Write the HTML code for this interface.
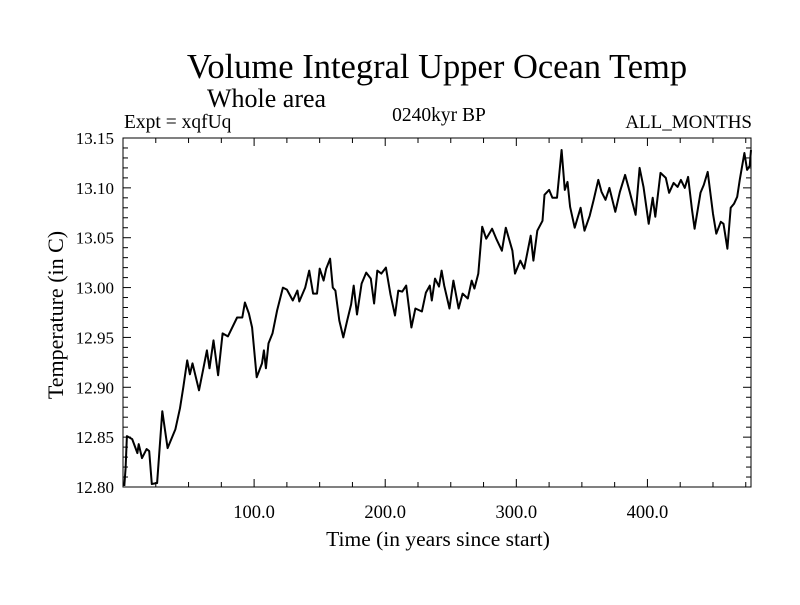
<!DOCTYPE html>
<html><head><meta charset="utf-8"><style>
html,body{margin:0;padding:0;background:#fff;}
svg text{font-family:"Liberation Serif",serif;fill:#000;}
</style></head><body>
<svg id="chart" width="800" height="600" xmlns="http://www.w3.org/2000/svg">
<text x="437" y="78" font-size="34.5" text-anchor="middle">Volume Integral Upper Ocean Temp</text>
<text x="207" y="107" font-size="26">Whole area</text>
<text x="124" y="128" font-size="19.5">Expt = xqfUq</text>
<text x="439" y="121" font-size="19.5" text-anchor="middle">0240kyr BP</text>
<text x="752" y="128" font-size="19" text-anchor="end">ALL_MONTHS</text>
<text transform="translate(63,315) rotate(-90)" font-size="22" text-anchor="middle">Temperature (in C)</text>
<text x="438" y="546" font-size="21.5" text-anchor="middle">Time (in years since start)</text>
<g id="axes"></g>
<g id="plot"></g>
</svg>
<script>
const years=[1,2,3,7,11,12,14.5,18,20,22,26,30,34,40,43.5,46,49,51,53,58,61,64,66,69,72.5,76,80,87,91,93,96,98.5,102,106,107.5,109,111,114,117.5,122,125,129.5,133,134.5,139,142,145,148,150,153,155,158,160,162,165,168,171,174,176,178.5,182,185.5,189,191.5,194,197,200.5,204,207.5,210,213,216,220,223,228,231,234,235.5,238,241,243,245,249,252,256,259,263,266,268,271,274,277,281.5,285,289,292,297,299,303,306,311,313,316,320,321.5,325,327.5,331,334.5,337,339,341,344.5,349,352,356,359,362.5,365,368,371,375.5,379,383,386.5,391,394,397,401,404,406,410,414,416.5,420,423,425.5,428.5,431,434,436,440.5,443,446,450,452.5,456,458,461,463.5,466,468.5,470.5,474,476,478,479];
const temps=[12.801,12.819,12.851,12.848,12.834,12.843,12.829,12.838,12.836,12.803,12.804,12.876,12.839,12.858,12.879,12.900,12.927,12.913,12.924,12.897,12.917,12.937,12.919,12.947,12.912,12.954,12.951,12.970,12.970,12.985,12.974,12.960,12.910,12.924,12.937,12.919,12.944,12.954,12.977,13.000,12.998,12.987,12.997,12.986,13.000,13.017,12.994,12.994,13.019,13.007,13.019,13.029,13.000,12.997,12.967,12.950,12.967,12.983,13.002,12.973,13.004,13.015,13.009,12.984,13.017,13.014,13.020,12.993,12.972,12.997,12.996,13.002,12.960,12.979,12.976,12.995,13.002,12.987,13.009,13.001,13.017,13.002,12.979,13.007,12.979,12.994,12.989,13.007,12.999,13.014,13.061,13.049,13.059,13.048,13.037,13.060,13.037,13.014,13.027,13.019,13.052,13.027,13.057,13.067,13.093,13.098,13.090,13.090,13.138,13.098,13.106,13.081,13.060,13.080,13.057,13.072,13.088,13.108,13.096,13.088,13.100,13.076,13.096,13.113,13.096,13.073,13.120,13.101,13.064,13.090,13.071,13.115,13.110,13.095,13.105,13.101,13.108,13.100,13.111,13.078,13.059,13.095,13.103,13.116,13.074,13.054,13.066,13.064,13.039,13.080,13.084,13.091,13.109,13.135,13.118,13.122,13.138];
const xTickVals=[100,200,300,400];
const xTickLabels=["100.0","200.0","300.0","400.0"];
const yTickVals=[12.80,12.85,12.90,12.95,13.00,13.05,13.10,13.15];
const yTickLabels=["12.80","12.85","12.90","12.95","13.00","13.05","13.10","13.15"];
const X0=123,X1=751,Y0=487,Y1=138,xmin=0,xmax=479,ymin=12.80,ymax=13.15;
const sx=v=>X0+(v-xmin)/(xmax-xmin)*(X1-X0);
const sy=v=>Y0-(v-ymin)/(ymax-ymin)*(Y0-Y1);
const NS="http://www.w3.org/2000/svg";
const axes=document.getElementById('axes'),plot=document.getElementById('plot');
function mk(tag,attrs,parent){const e=document.createElementNS(NS,tag);for(const k in attrs)e.setAttribute(k,attrs[k]);parent.appendChild(e);return e;}
const frame=mk('rect',{x:X0,y:Y1,width:X1-X0,height:Y0-Y1,fill:'none',stroke:'#000','stroke-width':1},axes);


for(let v=25;v<xmax;v+=25){const major=v%100===0;const L=major?8:5;
 const t1=mk('line',{x1:sx(v),x2:sx(v),y1:Y0,y2:Y0-L,stroke:'#000'},axes);
 
 
 const t2=mk('line',{x1:sx(v),x2:sx(v),y1:Y1,y2:Y1+L,stroke:'#000'},axes);
 
 }
for(let i=0;i<=35;i++){const v=ymin+i*0.01;const major=i%5===0;const L=major?8:5;
 const t1=mk('line',{x1:X0,x2:X0+L,y1:sy(v),y2:sy(v),stroke:'#000'},axes);
 
 
 const t2=mk('line',{x1:X1,x2:X1-L,y1:sy(v),y2:sy(v),stroke:'#000'},axes);
 
 }
xTickVals.forEach((v,i)=>{const t=mk('text',{x:sx(v),y:Y0+31,'font-size':18.5,'text-anchor':'middle'},axes);t.textContent=xTickLabels[i];
 
 });
yTickVals.forEach((v,i)=>{const t=mk('text',{x:X0-9,y:sy(v)+6,'font-size':17,'text-anchor':'end'},axes);t.textContent=yTickLabels[i];
 
 });
const d=years.map((y,i)=>(i?'L':'M')+sx(y).toFixed(1)+','+sy(temps[i]).toFixed(1)).join('');
const line=mk('path',{d:d,fill:'none',stroke:'#000','stroke-width':2,'stroke-linejoin':'round'},plot);


</script>
</body></html>
